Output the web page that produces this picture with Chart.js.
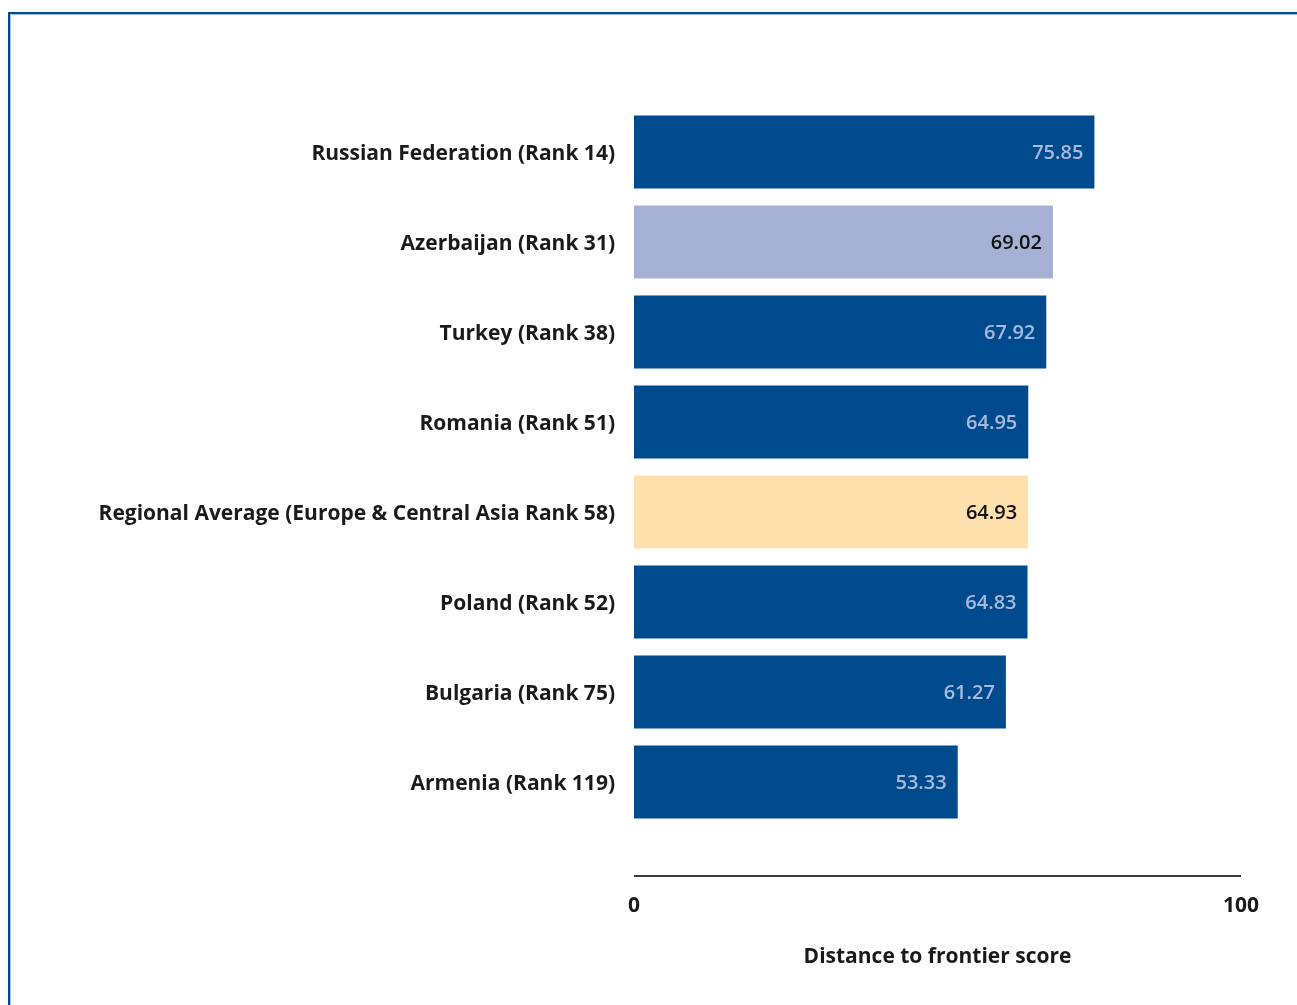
<!DOCTYPE html>
<html>
<head>
<meta charset="utf-8">
<script src="https://cdn.jsdelivr.net/npm/chart.js@4/dist/chart.umd.min.js"></script>
<style>
  html, body { margin: 0; padding: 0; background: #fff; }
  #wrap { position: relative; width: 1297px; height: 1005px; overflow: hidden; }
  #frame {
    position: absolute; left: 8px; top: 12px; width: 1400px; height: 1100px;
    border-top: 2px solid #004b8d; border-left: 2px solid #004b8d;
    box-shadow: inset 1px 1px 0 #9fc0e4;
    pointer-events: none;
  }
  canvas { position: absolute; left: 0; top: 0; }
</style>
</head>
<body>
<div id="wrap">
  <canvas id="chart" width="1297" height="1005"></canvas>
  <div id="frame"></div>
</div>
<script>
const categories = [
  'Russian Federation (Rank 14)',
  'Azerbaijan (Rank 31)',
  'Turkey (Rank 38)',
  'Romania (Rank 51)',
  'Regional Average (Europe & Central Asia Rank 58)',
  'Poland (Rank 52)',
  'Bulgaria (Rank 75)',
  'Armenia (Rank 119)'
];
const scores = [75.85, 69.02, 67.92, 64.95, 64.93, 64.83, 61.27, 53.33];
const barColors = ['#004b8d', '#a4b1d4', '#004b8d', '#004b8d', '#fde0ab', '#004b8d', '#004b8d', '#004b8d'];
const valueColors = ['#a9b9dc', '#111111', '#a9b9dc', '#a9b9dc', '#111111', '#a9b9dc', '#a9b9dc', '#a9b9dc'];
const xTicks = [0, 100];
const xTitle = 'Distance to frontier score';

const FONT = '"Open Sans", "Noto Sans", sans-serif';

const valueLabels = {
  id: 'valueLabels',
  afterDatasetsDraw(chart) {
    const ctx = chart.ctx;
    const meta = chart.getDatasetMeta(0);
    ctx.save();
    ctx.font = '600 20px ' + FONT;
    ctx.textAlign = 'right';
    ctx.textBaseline = 'middle';
    meta.data.forEach((bar, i) => {
      ctx.fillStyle = valueColors[i];
      ctx.fillText(scores[i].toFixed(2), bar.x - 11, bar.y + 1);
    });
    ctx.restore();
  }
};

const axisLine = {
  id: 'axisLine',
  afterDraw(chart) {
    const x = chart.scales.x;
    const y = chart.chartArea.bottom + 49;
    const ctx = chart.ctx;
    ctx.save();
    ctx.strokeStyle = '#3a3a3a';
    ctx.lineWidth = 2;
    ctx.beginPath();
    ctx.moveTo(x.getPixelForValue(xTicks[0]), y);
    ctx.lineTo(x.getPixelForValue(xTicks[xTicks.length - 1]), y);
    ctx.stroke();
    ctx.restore();
  }
};

new Chart(document.getElementById('chart'), {
  type: 'bar',
  data: {
    labels: categories,
    datasets: [{
      data: scores,
      backgroundColor: barColors,
      borderWidth: 0,
      barPercentage: 0.81,
      categoryPercentage: 1
    }]
  },
  plugins: [valueLabels, axisLine],
  options: {
    indexAxis: 'y',
    responsive: false,
    animation: false,
    layout: { padding: { top: 107, right: 56, bottom: 35, left: 0 } },
    plugins: {
      legend: { display: false },
      tooltip: { enabled: false }
    },
    scales: {
      x: {
        min: 0,
        max: 100,
        afterBuildTicks: (scale) => { scale.ticks = xTicks.map(v => ({ value: v })); },
        afterFit: (scale) => {
          scale.height = 143;
          scale.paddingLeft = 0;
          scale.paddingRight = 0;
        },
        grid: { display: false, drawTicks: false },
        border: { display: false },
        ticks: {
          padding: 66,
          maxRotation: 0,
          color: '#1a1a1a',
          font: { family: FONT, size: 21, weight: 'bold' }
        },
        title: {
          display: true,
          text: xTitle,
          color: '#1a1a1a',
          padding: { top: 26, bottom: 0 },
          font: { family: FONT, size: 21, weight: 'bold' }
        }
      },
      y: {
        afterFit: (scale) => { scale.width = 634; },
        grid: { display: false, drawTicks: false },
        border: { display: false },
        ticks: {
          padding: 19,
          labelOffset: 2,
          color: '#1a1a1a',
          font: { family: FONT, size: 21, weight: 'bold' }
        }
      }
    }
  }
});
</script>
</body>
</html>
